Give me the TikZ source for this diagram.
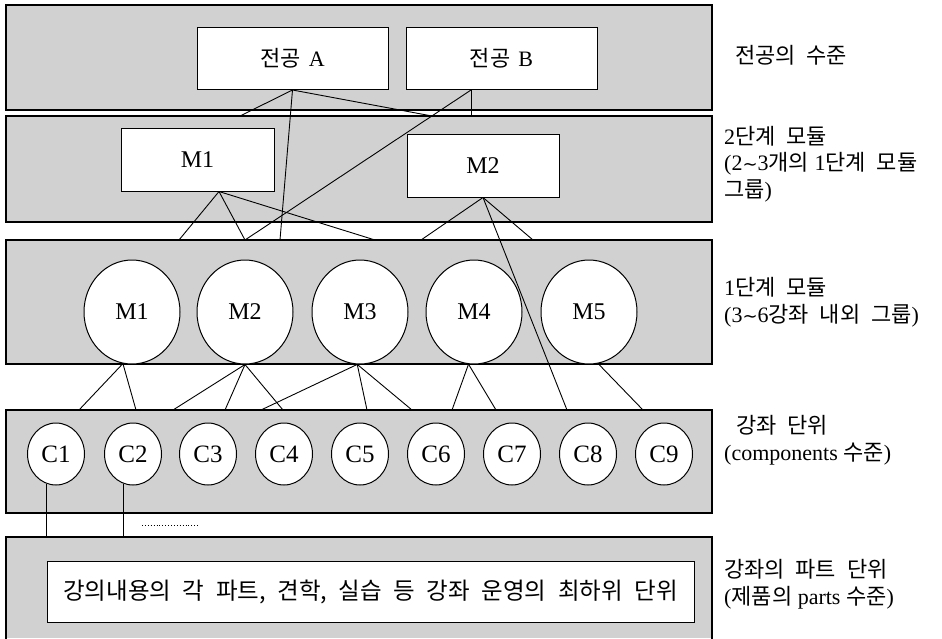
\documentclass[tikz,border=0pt]{standalone}
\usepackage{fontspec}
\setmainfont{Liberation Serif}
\newfontfamily\kr[WordSpace=2.2]{Noto Sans CJK KR}
\newfontfamily\symf{DejaVu Sans}
\newcommand{\wave}{{\symf\fontsize{18}{26}\selectfont ∼}}
\usetikzlibrary{shapes.geometric}

\begin{document}
\begin{tikzpicture}[x=1pt,y=-1pt,
  band/.style={draw=black, line width=1.1pt, fill=black!18},
  rbox/.style={draw=black, line width=1pt, fill=white, inner sep=0pt,
    font=\fontsize{22}{26}\selectfont},
  oval/.style={ellipse, draw=black, line width=1pt, fill=white, inner sep=0pt,
    font=\fontsize{24}{28}\selectfont},
  bigoval/.style={oval, minimum width=96pt, minimum height=104pt},
  smalloval/.style={oval, minimum width=57pt, minimum height=62pt, font=\fontsize{25}{28}\selectfont},
  link/.style={draw=black, line width=0.9pt},
  lvl/.style={anchor=west, inner sep=0pt, align=left,
    font=\fontsize{22}{26.5}\selectfont}]

\useasboundingbox (0,0) rectangle (942,638);
\fill[white] (0,0) rectangle (942,638);

% level bands
\path[band] (6,5) rectangle (712,110);
\path[band] (6,116) rectangle (712,222);
\path[band] (6,240) rectangle (712,364);
\path[band] (6,410) rectangle (712,513);
\fill[black!18] (6,537) rectangle (712,638);
\draw[line width=1.1pt] (6,645) -- (6,537) -- (712,537) -- (712,645);

% majors
\node[rbox, minimum width=191pt, minimum height=62pt] (jA) at (292.5,58.5) {{\kr 전공}\hspace{8pt}A};
\node[rbox, minimum width=191pt, minimum height=62pt] (jB) at (501.5,58.5) {{\kr 전공}\hspace{8pt}B};

% second-stage modules
\node[rbox, minimum width=153pt, minimum height=63pt, font=\fontsize{24}{28}\selectfont] (mA) at (197.5,159.5) {M1};
\node[rbox, minimum width=152pt, minimum height=63pt, font=\fontsize{24}{28}\selectfont] (mB) at (483,165.5) {M2};

% first-stage modules
\node[bigoval] (e1) at (132,312) {M1};
\node[bigoval] (e2) at (245,312) {M2};
\node[bigoval] (e3) at (360,312) {M3};
\node[bigoval] (e4) at (474,312) {M4};
\node[bigoval] (e5) at (589,312) {M5};

% courses
\foreach \i/\x in {1/56,2/133,3/208,4/284,5/360,6/436,7/512,8/588,9/664}
  \node[smalloval] (c\i) at (\x,454) {C\i};

% parts of a course
\node[rbox, minimum width=647pt, minimum height=61pt, font=\fontsize{23.5}{27}\selectfont] (parts) at (370.5,591.5)
  {\kr 강의내용의 각 파트, 견학, 실습 등 강좌 운영의 최하위 단위};

% free ends of the connectors on the band edges
\coordinate (a1) at (240,116);
\coordinate (a2) at (280,240);
\coordinate (a3) at (432,116);
\coordinate (b1) at (471,116);
\coordinate (b2) at (245,240);
\coordinate (k1) at (179,240);
\coordinate (k2) at (375,240);
\coordinate (n1) at (421,240);
\coordinate (n2) at (533,240);
\coordinate (n3) at (567,410);
\foreach \n/\x in {1/79,2/136,3/173,4/225,5/283,6/261,7/367,8/412,9/452,10/496,11/643}
  \coordinate (q\n) at (\x,410);
\coordinate (p5) at (0,537);
\coordinate (d1) at (142,525);
\coordinate (d2) at (198,525);

% connectors from the majors
\draw[link] (jA.south) -- (a1);
\draw[link] (jA.south) -- (a2);
\draw[link] (jA.south) -- (a3);
\draw[link] ([xshift=-30.5pt]jB.south) -- (b1);
\draw[link] ([xshift=-30.5pt]jB.south) -- (b2);

% connectors from the second-stage modules
\draw[link] ([xshift=21.5pt]mA.south) -- (k1);
\draw[link] ([xshift=21.5pt]mA.south) -- (b2);
\draw[link] ([xshift=21.5pt]mA.south) -- (k2);
\draw[link] (mB.south) -- (n1);
\draw[link] (mB.south) -- (n2);
\draw[link] (mB.south) -- (n3);

% connectors from the first-stage modules
\draw[link] (e1.-100) -- (q1);
\draw[link] (e1.-100) -- (q2);
\draw[link] (e2.south) -- (q3);
\draw[link] (e2.south) -- (q4);
\draw[link] (e2.south) -- (q5);
\draw[link] (e3.-93) -- (q6);
\draw[link] (e3.-93) -- (q7);
\draw[link] (e3.-93) -- (q8);
\draw[link] (e4.-96) -- (q9);
\draw[link] (e4.-96) -- (q10);
\draw[link] (e5.-80) -- (q11);

% connectors from the courses to their parts
\draw[link] (c1.-107) -- (c1.-107 |- p5);
\draw[link] (c2.-108) -- (c2.-108 |- p5);
\draw[dotted, line width=0.9pt] (d1) -- (d2);

% level descriptions
\node[lvl] (l1) at (735,55) {\kr 전공의 수준};
\node[lvl] (l2) at (724,164) {2{\kr 단계 모듈}\\(2\wave3{\kr 개의} 1{\kr 단계 모듈}\\{\kr 그룹})};
\node[lvl] (l3) at (724,302) {1{\kr 단계 모듈}\\(3\wave6{\kr 강좌 내외 그룹})};
\node[lvl] (l4) at (724,440) {\hspace*{12pt}{\kr 강좌 단위}\\(components {\kr 수준})};
\node[lvl] (l5) at (724,584) {{\kr 강좌의 파트 단위}\\({\kr 제품의} parts {\kr 수준})};
\end{tikzpicture}
\end{document}
